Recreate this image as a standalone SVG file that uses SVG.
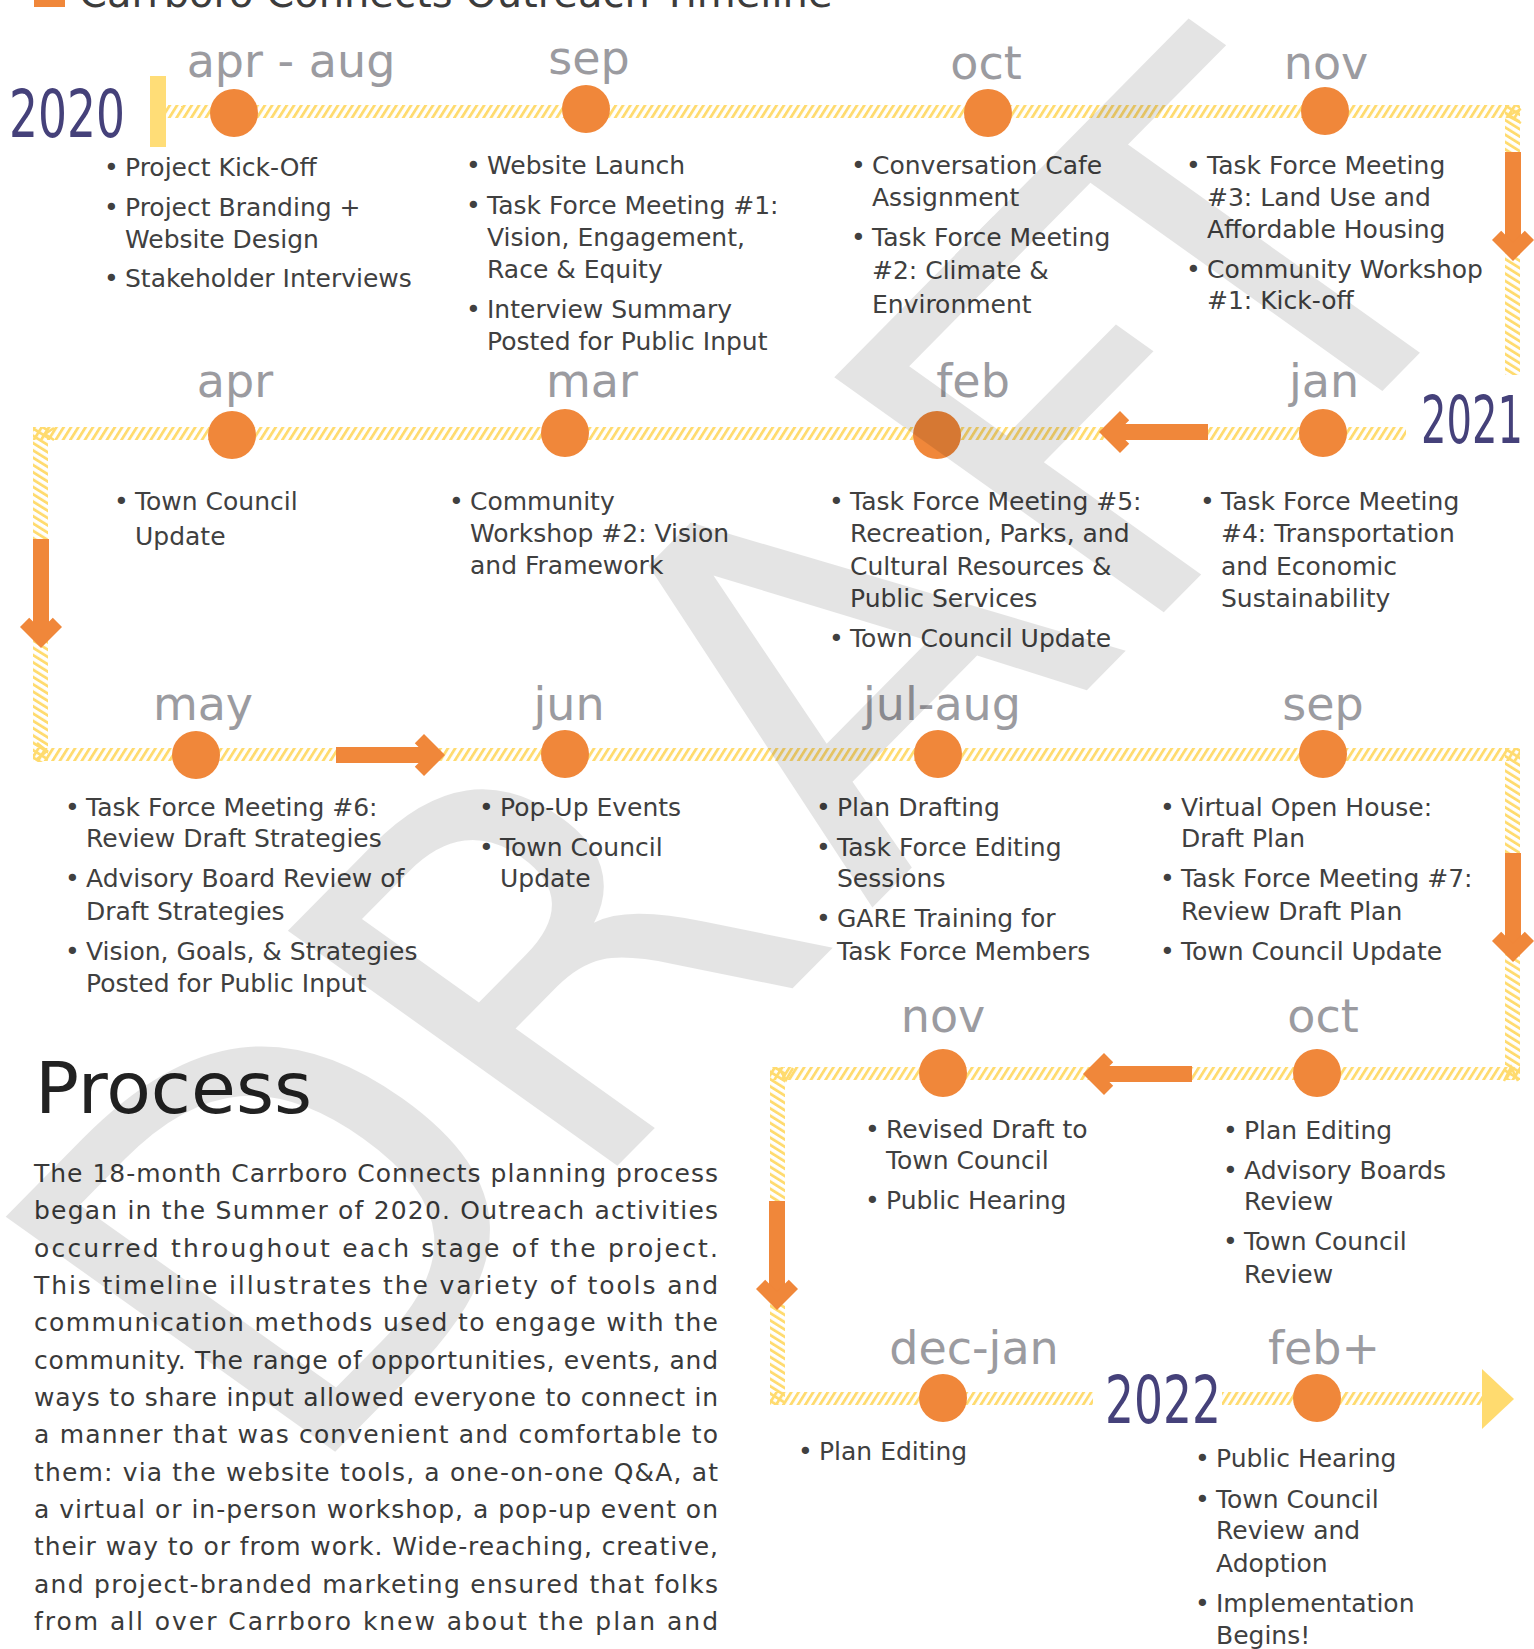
<svg xmlns="http://www.w3.org/2000/svg" width="1534" height="1649" viewBox="0 0 1534 1649">
<style>
.mo{font-family:"DejaVu Sans",sans-serif;font-size:46px;fill:#9B9BA0;text-anchor:middle}
.bt{font-family:"DejaVu Sans",sans-serif;font-size:25px;fill:#404040}
.yr{font-family:"DejaVu Sans",sans-serif;font-size:66px;fill:#45417A}
.dot{fill:#F0873A}
.pg{font-family:"DejaVu Sans",sans-serif;font-size:25px;fill:#3a3a3a}
.chev{fill:none;stroke:#FFDB6F;stroke-width:2.5}
</style>
<defs>
<pattern id="hH" width="6.2" height="6.2" patternUnits="userSpaceOnUse" patternTransform="rotate(32)"><rect width="2.8" height="6.2" fill="#FFDB6F"/></pattern>
<pattern id="hV" width="6.2" height="6.2" patternUnits="userSpaceOnUse" patternTransform="rotate(-58)"><rect width="2.8" height="6.2" fill="#FFDB6F"/></pattern>
<g id="arr">
<rect x="-109" y="-8" width="95" height="16" fill="#F0873A"/>
<polygon points="0,0 -21,-21 -30.2,-11.8 -18.4,0 -30.2,11.8 -21,21" fill="#F0873A"/>
</g>
</defs>
<rect width="1534" height="1649" fill="#fff"/>

<g id="title">
<rect x="34" y="-24" width="31" height="31" fill="#F0873A"/>
<text x="79" y="7" font-family="DejaVu Sans,sans-serif" font-size="40" fill="#3c3c3c">Carrboro Connects Outreach Timeline</text>
</g>

<g id="connectors">
<rect x="150" y="76" width="16" height="71" fill="#FFDD77"/>
<rect x="166" y="105" width="1354" height="13" fill="url(#hH)"/>
<rect x="1505" y="105" width="15" height="270" fill="url(#hV)"/>
<rect x="33" y="427" width="1373" height="13" fill="url(#hH)"/>
<rect x="33" y="427" width="15" height="335" fill="url(#hV)"/>
<rect x="33" y="748" width="1487" height="13" fill="url(#hH)"/>
<rect x="1505" y="748" width="15" height="332" fill="url(#hV)"/>
<rect x="770" y="1067" width="750" height="13" fill="url(#hH)"/>
<rect x="770" y="1067" width="15" height="338" fill="url(#hV)"/>
<rect x="770" y="1392" width="323" height="13" fill="url(#hH)"/>
<rect x="1222" y="1392" width="260" height="13" fill="url(#hH)"/>
<polygon points="1482,1369 1514,1399 1482,1429" fill="#FFDB6F"/>
<polyline class="chev" points="1521,109 1508,116 1521,123"/>
<polyline class="chev" points="54,428 45,434 54,440"/>
<polyline class="chev" points="37,743 47,751 37,759"/>
<polyline class="chev" points="1504,1081 1511,1067 1518,1081"/>
<polyline class="chev" points="779,1068 786,1080 793,1068"/>
<use href="#arr" transform="translate(1513,261) rotate(90)"/>
<use href="#arr" transform="translate(1099,432) rotate(180)"/>
<use href="#arr" transform="translate(41,648) rotate(90)"/>
<use href="#arr" transform="translate(445,755)"/>
<use href="#arr" transform="translate(1513,962) rotate(90)"/>
<use href="#arr" transform="translate(1083,1074) rotate(180)"/>
<use href="#arr" transform="translate(777,1310) rotate(90)"/>
</g>

<g id="years">
<text class="yr" x="9" y="137" textLength="116" lengthAdjust="spacingAndGlyphs">2020</text>
<text class="yr" x="1421" y="443" textLength="102" lengthAdjust="spacingAndGlyphs">2021</text>
<text class="yr" x="1105" y="1423" textLength="116" lengthAdjust="spacingAndGlyphs">2022</text>
</g>

<g id="n-2020-apraug">
<text class="mo" x="291" y="77">apr - aug</text>
<circle class="dot" cx="234" cy="113" r="24"/>
<text class="bt" y="176"><tspan x="104">•</tspan><tspan x="125">Project Kick-Off</tspan></text>
<text class="bt" y="216"><tspan x="104">•</tspan><tspan x="125">Project Branding +</tspan></text>
<text class="bt" x="125" y="248">Website Design</text>
<text class="bt" y="287"><tspan x="104">•</tspan><tspan x="125">Stakeholder Interviews</tspan></text>
</g>

<g id="n-2020-sep">
<text class="mo" x="589" y="74">sep</text>
<circle class="dot" cx="586" cy="109" r="24"/>
<text class="bt" y="174"><tspan x="466">•</tspan><tspan x="487">Website Launch</tspan></text>
<text class="bt" y="214"><tspan x="466">•</tspan><tspan x="487">Task Force Meeting #1:</tspan></text>
<text class="bt" x="487" y="246">Vision, Engagement,</text>
<text class="bt" x="487" y="278">Race &amp; Equity</text>
<text class="bt" y="318"><tspan x="466">•</tspan><tspan x="487">Interview Summary</tspan></text>
<text class="bt" x="487" y="350">Posted for Public Input</text>
</g>

<g id="n-2020-oct">
<text class="mo" x="986" y="79">oct</text>
<circle class="dot" cx="988" cy="113" r="24"/>
<text class="bt" y="174"><tspan x="851">•</tspan><tspan x="872">Conversation Cafe</tspan></text>
<text class="bt" x="872" y="206">Assignment</text>
<text class="bt" y="246"><tspan x="851">•</tspan><tspan x="872">Task Force Meeting</tspan></text>
<text class="bt" x="872" y="279">#2: Climate &amp;</text>
<text class="bt" x="872" y="313">Environment</text>
</g>

<g id="n-2020-nov">
<text class="mo" x="1326" y="79">nov</text>
<circle class="dot" cx="1325" cy="111" r="24"/>
<text class="bt" y="174"><tspan x="1186">•</tspan><tspan x="1207">Task Force Meeting</tspan></text>
<text class="bt" x="1207" y="206">#3: Land Use and</text>
<text class="bt" x="1207" y="238">Affordable Housing</text>
<text class="bt" y="278"><tspan x="1186">•</tspan><tspan x="1207">Community Workshop</tspan></text>
<text class="bt" x="1207" y="309">#1: Kick-off</text>
</g>

<g id="n-2021-jan">
<text class="mo" x="1324" y="397">jan</text>
<circle class="dot" cx="1323" cy="433" r="24"/>
<text class="bt" y="510"><tspan x="1200">•</tspan><tspan x="1221">Task Force Meeting</tspan></text>
<text class="bt" x="1221" y="542">#4: Transportation</text>
<text class="bt" x="1221" y="575">and Economic</text>
<text class="bt" x="1221" y="607">Sustainability</text>
</g>

<g id="n-2021-feb">
<text class="mo" x="973" y="397">feb</text>
<circle class="dot" cx="937" cy="435" r="24"/>
<text class="bt" y="510"><tspan x="829">•</tspan><tspan x="850">Task Force Meeting #5:</tspan></text>
<text class="bt" x="850" y="542">Recreation, Parks, and</text>
<text class="bt" x="850" y="575">Cultural Resources &amp;</text>
<text class="bt" x="850" y="607">Public Services</text>
<text class="bt" y="647"><tspan x="829">•</tspan><tspan x="850">Town Council Update</tspan></text>
</g>

<g id="n-2021-mar">
<text class="mo" x="592" y="397">mar</text>
<circle class="dot" cx="565" cy="433" r="24"/>
<text class="bt" y="510"><tspan x="449">•</tspan><tspan x="470">Community</tspan></text>
<text class="bt" x="470" y="542">Workshop #2: Vision</text>
<text class="bt" x="470" y="574">and Framework</text>
</g>

<g id="n-2021-apr">
<text class="mo" x="235" y="397">apr</text>
<circle class="dot" cx="232" cy="435" r="24"/>
<text class="bt" y="510"><tspan x="114">•</tspan><tspan x="135">Town Council</tspan></text>
<text class="bt" x="135" y="545">Update</text>
</g>

<g id="n-2021-may">
<text class="mo" x="203" y="720">may</text>
<circle class="dot" cx="196" cy="755" r="24"/>
<text class="bt" y="816"><tspan x="65">•</tspan><tspan x="86">Task Force Meeting #6:</tspan></text>
<text class="bt" x="86" y="847">Review Draft Strategies</text>
<text class="bt" y="887"><tspan x="65">•</tspan><tspan x="86">Advisory Board Review of</tspan></text>
<text class="bt" x="86" y="920">Draft Strategies</text>
<text class="bt" y="960"><tspan x="65">•</tspan><tspan x="86">Vision, Goals, &amp; Strategies</tspan></text>
<text class="bt" x="86" y="992">Posted for Public Input</text>
</g>

<g id="n-2021-jun">
<text class="mo" x="569" y="720">jun</text>
<circle class="dot" cx="565" cy="754" r="24"/>
<text class="bt" y="816"><tspan x="479">•</tspan><tspan x="500">Pop-Up Events</tspan></text>
<text class="bt" y="856"><tspan x="479">•</tspan><tspan x="500">Town Council</tspan></text>
<text class="bt" x="500" y="887">Update</text>
</g>

<g id="n-2021-julaug">
<text class="mo" x="942" y="720">jul-aug</text>
<circle class="dot" cx="938" cy="754" r="24"/>
<text class="bt" y="816"><tspan x="816">•</tspan><tspan x="837">Plan Drafting</tspan></text>
<text class="bt" y="856"><tspan x="816">•</tspan><tspan x="837">Task Force Editing</tspan></text>
<text class="bt" x="837" y="887">Sessions</text>
<text class="bt" y="927"><tspan x="816">•</tspan><tspan x="837">GARE Training for</tspan></text>
<text class="bt" x="837" y="960">Task Force Members</text>
</g>

<g id="n-2021-sep">
<text class="mo" x="1323" y="720">sep</text>
<circle class="dot" cx="1323" cy="754" r="24"/>
<text class="bt" y="816"><tspan x="1160">•</tspan><tspan x="1181">Virtual Open House:</tspan></text>
<text class="bt" x="1181" y="847">Draft Plan</text>
<text class="bt" y="887"><tspan x="1160">•</tspan><tspan x="1181">Task Force Meeting #7:</tspan></text>
<text class="bt" x="1181" y="920">Review Draft Plan</text>
<text class="bt" y="960"><tspan x="1160">•</tspan><tspan x="1181">Town Council Update</tspan></text>
</g>

<g id="n-2021-oct">
<text class="mo" x="1323" y="1032">oct</text>
<circle class="dot" cx="1317" cy="1073" r="24"/>
<text class="bt" y="1139"><tspan x="1223">•</tspan><tspan x="1244">Plan Editing</tspan></text>
<text class="bt" y="1179"><tspan x="1223">•</tspan><tspan x="1244">Advisory Boards</tspan></text>
<text class="bt" x="1244" y="1210">Review</text>
<text class="bt" y="1250"><tspan x="1223">•</tspan><tspan x="1244">Town Council</tspan></text>
<text class="bt" x="1244" y="1283">Review</text>
</g>

<g id="n-2021-nov">
<text class="mo" x="943" y="1032">nov</text>
<circle class="dot" cx="943" cy="1073" r="24"/>
<text class="bt" y="1138"><tspan x="865">•</tspan><tspan x="886">Revised Draft to</tspan></text>
<text class="bt" x="886" y="1169">Town Council</text>
<text class="bt" y="1209"><tspan x="865">•</tspan><tspan x="886">Public Hearing</tspan></text>
</g>

<g id="n-2021-decjan">
<text class="mo" x="974" y="1364">dec-jan</text>
<circle class="dot" cx="943" cy="1398" r="24"/>
<text class="bt" y="1460"><tspan x="798">•</tspan><tspan x="819">Plan Editing</tspan></text>
</g>

<g id="n-2022-feb">
<text class="mo" x="1324" y="1364">feb+</text>
<circle class="dot" cx="1317" cy="1398" r="24"/>
<text class="bt" y="1467"><tspan x="1195">•</tspan><tspan x="1216">Public Hearing</tspan></text>
<text class="bt" y="1508"><tspan x="1195">•</tspan><tspan x="1216">Town Council</tspan></text>
<text class="bt" x="1216" y="1539">Review and</text>
<text class="bt" x="1216" y="1572">Adoption</text>
<text class="bt" y="1612"><tspan x="1195">•</tspan><tspan x="1216">Implementation</tspan></text>
<text class="bt" x="1216" y="1644">Begins!</text>
</g>

<g id="process">
<text x="35" y="1113" font-family="DejaVu Sans,sans-serif" font-size="71" fill="#222" textLength="277" lengthAdjust="spacingAndGlyphs">Process</text>
<text class="pg" x="34" y="1182" textLength="684" lengthAdjust="spacing">The 18-month Carrboro Connects planning process</text>
<text class="pg" x="34" y="1219" textLength="684" lengthAdjust="spacing">began in the Summer of 2020. Outreach activities</text>
<text class="pg" x="34" y="1257" textLength="684" lengthAdjust="spacing">occurred throughout each stage of the project.</text>
<text class="pg" x="34" y="1294" textLength="684" lengthAdjust="spacing">This timeline illustrates the variety of tools and</text>
<text class="pg" x="34" y="1331" textLength="684" lengthAdjust="spacing">communication methods used to engage with the</text>
<text class="pg" x="34" y="1369" textLength="684" lengthAdjust="spacing">community. The range of opportunities, events, and</text>
<text class="pg" x="34" y="1406" textLength="684" lengthAdjust="spacing">ways to share input allowed everyone to connect in</text>
<text class="pg" x="34" y="1443" textLength="684" lengthAdjust="spacing">a manner that was convenient and comfortable to</text>
<text class="pg" x="34" y="1481" textLength="684" lengthAdjust="spacing">them: via the website tools, a one-on-one Q&amp;A, at</text>
<text class="pg" x="34" y="1518" textLength="684" lengthAdjust="spacing">a virtual or in-person workshop, a pop-up event on</text>
<text class="pg" x="34" y="1555" textLength="684" lengthAdjust="spacing">their way to or from work. Wide-reaching, creative,</text>
<text class="pg" x="34" y="1593" textLength="684" lengthAdjust="spacing">and project-branded marketing ensured that folks</text>
<text class="pg" x="34" y="1630" textLength="684" lengthAdjust="spacing">from all over Carrboro knew about the plan and</text>
</g>

<g id="watermark" opacity="0.1">
<g transform="translate(1401,372) scale(1,0.85) rotate(-50)">
<text y="0" font-family="DejaVu Sans,sans-serif" font-size="590" fill="#000"><tspan x="-1716">D</tspan><tspan x="-1277">R</tspan><tspan x="-827">A</tspan><tspan x="-427">F</tspan><tspan x="-180">T</tspan></text>
</g>
</g>
</svg>
